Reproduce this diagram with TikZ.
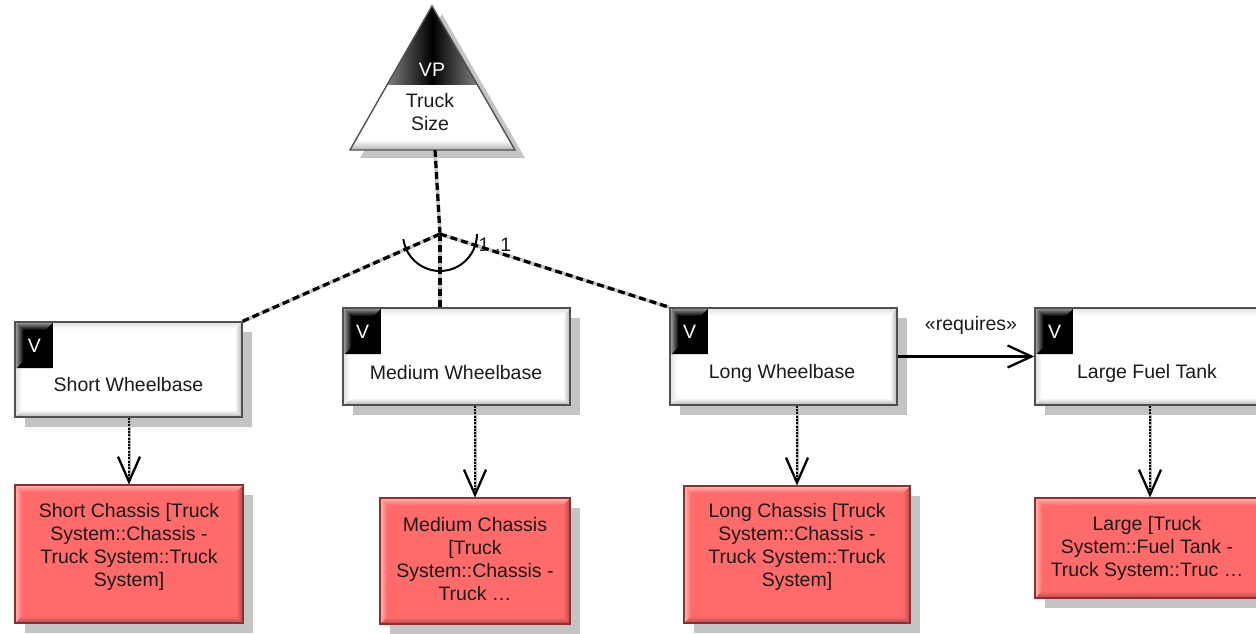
\documentclass[tikz,border=0pt]{standalone}
\usepackage{fontspec}
\setmainfont{Liberation Sans}
\usetikzlibrary{arrows.meta,shadows,calc}
\definecolor{redfill}{HTML}{FF6B6B}
\definecolor{redborder}{HTML}{8B3030}
\definecolor{reddark}{HTML}{B84848}
\definecolor{redlight}{HTML}{FFB4B4}
\definecolor{shadowgray}{HTML}{C4C4C4}
\definecolor{boxborder}{HTML}{505050}
\definecolor{txt}{HTML}{1A1A1A}
\tikzset{
  bev/.style n args={3}{path picture={%
    \coordinate (pSW) at (path picture bounding box.south west);
    \coordinate (pSE) at (path picture bounding box.south east);
    \coordinate (pNW) at (path picture bounding box.north west);
    \coordinate (pNE) at (path picture bounding box.north east);
    \shade[top color=#1, bottom color=#2] (pSW) -- (pSE) -- ([shift={(-7pt,7pt)}]pSE) -- ([shift={(7pt,7pt)}]pSW) -- cycle;
    \shade[left color=#1, right color=#2] (pSE) -- (pNE) -- ([shift={(-7pt,-7pt)}]pNE) -- ([shift={(-7pt,7pt)}]pSE) -- cycle;
    \shade[top color=#3, bottom color=#1] (pNW) -- (pNE) -- ([shift={(-7pt,-7pt)}]pNE) -- ([shift={(7pt,-7pt)}]pNW) -- cycle;
    \shade[left color=#3, right color=#1] (pNW) -- (pSW) -- ([shift={(7pt,7pt)}]pSW) -- ([shift={(7pt,-7pt)}]pNW) -- cycle;
  }},
  boxshadow/.style={drop shadow={shadow xshift=10pt, shadow yshift=-10pt, fill=shadowgray, opacity=1}},
  vbox/.style={rectangle, draw=boxborder, line width=1.4pt, fill=white, inner sep=0pt,
    minimum width=227pt, minimum height=97pt, boxshadow, bev={white}{gray!60}{gray!25}},
  rbox/.style={rectangle, draw=redborder, line width=1.2pt, fill=redfill, inner sep=0pt,
    boxshadow, bev={redfill}{reddark}{redlight}},
  vtag/.style={rectangle, fill=black, text=white, inner sep=0pt, minimum width=36pt,
    minimum height=45pt, anchor=north west, bev={black}{black}{black!45}},
  lbl/.style={text=txt, inner sep=0pt, align=center},
  vpconn/.style={line width=3.2pt, black, dash pattern=on 7pt off 4pt,
    preaction={draw, solid, line width=3.6pt, gray!45}},
  dotarrow/.style={line width=2.8pt, black, dash pattern=on 2pt off 1.3pt,
    preaction={draw, solid, line width=3pt, gray!55},
    -{Straight Barb[length=25pt, width=22pt, line width=2.2pt]}},
  reqarrow/.style={line width=2.6pt, black, -{Straight Barb[length=24pt, width=22pt, line width=2.3pt]}},
}
\begin{document}
\begin{tikzpicture}[x=1pt, y=-1pt, font=\fontsize{19.5}{23}\selectfont]
\useasboundingbox (0,0) rectangle (1256,634);
\clip (0,0) rectangle (1256,634);
\fill[white] (0,0) rectangle (1256,634);

% ---- variation point triangle ----
\coordinate (apex) at (432,6);
\coordinate (bl) at (350,150);
\coordinate (br) at (515,150);
\coordinate (tb) at (435,150);
\coordinate (J) at (440,234);
\fill[shadowgray] ([shift={(10pt,-8pt)}]apex) -- ([shift={(10pt,-8pt)}]br) -- ([shift={(10pt,-8pt)}]bl) -- cycle;
\fill[white] (apex) -- (br) -- (bl) -- cycle;
\begin{scope}
  \clip (apex) -- (br) -- (bl) -- cycle;
  \shade[top color=white, bottom color=gray!60] (340,140) rectangle (525,150);
  \shade[left color=black!50, right color=black!50, middle color=black] (387,85) -- (432,6) -- (477.5,85) -- cycle;
\end{scope}
\draw[boxborder, line width=1.4pt, line join=miter] (apex) -- (br) -- (bl) -- cycle;
\node[text=white, inner sep=0pt] (vp) at (432,70) {VP};
\node[lbl] (vpname) at (430,112) {Truck\\Size};

% ---- variant boxes ----
\node[vbox, minimum height=95pt] (sw) at (128.5,369.5) {};
\node[vbox] (mw) at (456.5,356.5) {};
\node[vbox] (lw) at (783.5,356.5) {};
\node[vbox] (lf) at (1148.5,356.5) {};

\node[vtag] (swv) at ([shift={(2pt,-1.5pt)}]sw.north west) {V};
\node[vtag] (mwv) at ([shift={(2pt,-1.5pt)}]mw.north west) {V};
\node[vtag] (lwv) at ([shift={(2pt,-1.5pt)}]lw.north west) {V};
\node[vtag] (lfv) at ([shift={(2pt,-1.5pt)}]lf.north west) {V};

\node[lbl] (swt) at (128.5,385) {Short Wheelbase};
\node[lbl] (mwt) at (456,373) {Medium Wheelbase};
\node[lbl] (lwt) at (782,373) {Long Wheelbase};
\node[lbl] (lft) at (1147,373) {Large Fuel Tank};

% ---- realisation boxes ----
\node[rbox, minimum width=228pt, minimum height=138pt] (sc) at (129,554) {};
\node[rbox, minimum width=190pt, minimum height=126pt] (mc) at (475,561) {};
\node[rbox, minimum width=226pt, minimum height=137pt] (lc) at (797,554.5) {};
\node[rbox, minimum width=227pt, minimum height=100pt] (lg) at (1148.5,548) {};

\node[lbl] (sct) at (129,547) {Short Chassis [Truck\\System::Chassis -\\Truck System::Truck\\System]};
\node[lbl] (mct) at (475,559.5) {Medium Chassis\\{}[Truck\\System::Chassis -\\Truck \dots};
\node[lbl] (lct) at (797,547) {Long Chassis [Truck\\System::Chassis -\\Truck System::Truck\\System]};
\node[lbl] (lgt) at (1147,548) {Large [Truck\\System::Fuel Tank -\\Truck System::Truc \dots};

% ---- variation point connectors ----
\node[lbl] (mult) at (495,245) {1..1};
\draw[vpconn] (tb) -- (J);
\draw[vpconn] (J) -- (sw.north east);
\draw[vpconn] (J) -- (J |- mw.north);
\draw[vpconn] (J) -- (lw.north west);
\draw[black, line width=2pt] (J) ++(188:37pt) arc[start angle=188, end angle=360, radius=37pt];

% ---- realisation arrows ----
\draw[dotarrow] (sc.north |- sw.south) -- (sc.north);
\draw[dotarrow] (mc.north |- mw.south) -- (mc.north);
\draw[dotarrow] (lc.north |- lw.south) -- (lc.north);
\draw[dotarrow] ([xshift=1.5pt]lg.north |- lf.south) -- ([xshift=1.5pt]lg.north);

% ---- requires ----
\draw[reqarrow] (lw.east) -- (lf.west);
\node[lbl] (req) at (971,325) {«requires»};
\end{tikzpicture}
\end{document}
